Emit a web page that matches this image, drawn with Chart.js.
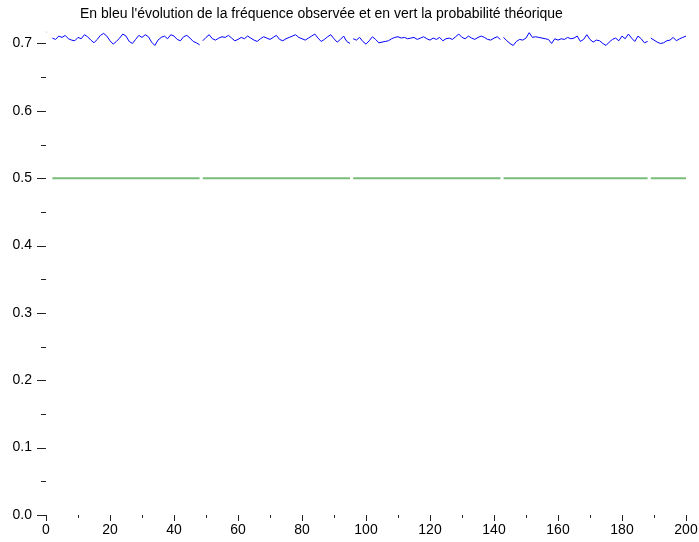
<!DOCTYPE html>
<html>
<head>
<meta charset="utf-8">
<script src="https://cdn.jsdelivr.net/npm/chart.js@4/dist/chart.umd.min.js"></script>
<style>
  html, body { margin: 0; padding: 0; background: #fff; }
  #wrap { width: 699px; height: 542px; position: relative; }
</style>
</head>
<body>
<div id="wrap"><canvas id="chart"></canvas></div>
<script>
// titre
const titre = "En bleu l'évolution de la fréquence observée et en vert la probabilité théorique";

// fréquence observée, x = 2 .. 200
const frequence = [
  0.708,0.706,0.711,0.709,0.712,0.707,0.705,0.704,0.709,0.707,
  0.713,0.710,0.705,0.701,0.706,0.712,0.715,0.711,0.704,0.699,
  0.703,0.708,0.714,0.711,0.703,0.700,0.706,0.712,0.709,0.713,
  0.710,0.702,0.697,0.705,0.709,0.711,0.707,0.713,0.711,0.706,
  0.704,0.710,0.712,0.708,0.703,0.701,0.698,
  0.704,0.709,0.713,0.707,0.705,0.708,0.710,0.709,0.712,0.708,
  0.704,0.706,0.709,0.707,0.711,0.708,0.705,0.703,0.707,0.710,
  0.708,0.706,0.709,0.712,0.706,0.704,0.707,0.709,0.711,0.713,
  0.709,0.707,0.705,0.708,0.711,0.714,0.708,0.703,0.706,0.710,
  0.713,0.707,0.702,0.706,0.711,0.703,0.700,
  0.707,0.705,0.709,0.703,0.699,0.704,0.710,0.706,0.701,0.702,
  0.703,0.704,0.707,0.709,0.710,0.708,0.709,0.707,0.708,0.709,
  0.706,0.708,0.710,0.707,0.705,0.708,0.706,0.709,0.704,0.707,
  0.708,0.706,0.710,0.714,0.709,0.707,0.711,0.708,0.706,0.709,
  0.711,0.709,0.706,0.705,0.708,0.710,0.706,
  0.709,0.704,0.700,0.697,0.703,0.706,0.705,0.708,0.716,0.709,
  0.710,0.709,0.708,0.707,0.706,0.700,0.707,0.705,0.707,0.706,
  0.709,0.707,0.708,0.711,0.703,0.706,0.713,0.706,0.702,0.705,
  0.704,0.700,0.697,0.702,0.706,0.708,0.704,0.711,0.707,0.714,
  0.708,0.703,0.711,0.707,0.701,0.703,
  0.708,0.705,0.702,0.700,0.701,0.704,0.705,0.709,0.704,0.707,0.709,0.711
];
const premierX = 2;
const pointInitial = 0.717;   // point isolé en x = 0
const probabilite = 0.5;
// coupures des tracés
const coupures = [48.5, 95.5, 142.5, 188.5];

// graduations
const xTicks = [0,10,20,30,40,50,60,70,80,90,100,110,120,130,140,150,160,170,180,190,200];
const xLabels = [0,20,40,60,80,100,120,140,160,180,200];
const yTicks = [0,0.05,0.1,0.15,0.2,0.25,0.3,0.35,0.4,0.45,0.5,0.55,0.6,0.65,0.7];
const yLabels = [0,0.1,0.2,0.3,0.4,0.5,0.6,0.7];
const xMin = 0, xMax = 200;
const yMin = 0, yMax = 0.72;

const estLabel = (liste, v) => liste.some(l => Math.abs(l - v) < 1e-6);

function avecCoupures(points) {
  const out = points.slice();
  coupures.forEach(c => out.push({ x: c, y: null }));
  return out.sort((a, b) => a.x - b.x);
}

const bleu = [{ x: 0, y: pointInitial }, { x: 1, y: null }];
frequence.forEach((v, i) => bleu.push({ x: premierX + i, y: v }));
const vert = frequence.map((v, i) => ({ x: premierX + i, y: probabilite }));

const FONT = "'Liberation Sans', Arial, sans-serif";

const titrePlugin = {
  id: "titre",
  afterDraw(chart) {
    const c = chart.ctx;
    c.save();
    c.font = "14px " + FONT;
    c.fillStyle = "#000";
    c.textBaseline = "alphabetic";
    c.textAlign = "left";
    c.fillText(titre, 80, 18);
    c.restore();
  }
};

const traitsPlugin = {
  id: "traits",
  afterDraw(chart) {
    const c = chart.ctx;
    const xs = chart.scales.x, ys = chart.scales.y;
    const area = chart.chartArea;
    c.save();
    c.strokeStyle = "#222";
    c.lineWidth = 1;
    c.beginPath();
    ys.ticks.forEach(t => {
      const y = Math.round(ys.getPixelForValue(t.value)) + 0.5;
      const len = estLabel(yLabels, t.value) ? 9 : 5;
      c.moveTo(area.left - len, y);
      c.lineTo(area.left, y);
    });
    xs.ticks.forEach(t => {
      const x = Math.round(xs.getPixelForValue(t.value)) + 0.5;
      const y0 = area.bottom;
      c.moveTo(x, y0);
      c.lineTo(x, y0 + (estLabel(xLabels, t.value) ? 6 : 3));
    });
    c.stroke();
    c.restore();
  }
};

new Chart(document.getElementById("chart"), {
  type: "line",
  data: {
    datasets: [
      {
        label: "probabilité théorique",
        data: avecCoupures(vert),
        borderColor: "rgb(122, 188, 122)",
        borderWidth: 2,
        pointRadius: 0,
        spanGaps: false,
        tension: 0
      },
      {
        label: "fréquence observée",
        data: avecCoupures(bleu),
        borderColor: "#0000ff",
        borderWidth: 1,
        pointRadius: ctx => (ctx.dataIndex === 0 ? 0.6 : 0),
        pointBackgroundColor: "#666",
        pointBorderWidth: 0,
        spanGaps: false,
        tension: 0
      }
    ]
  },
  options: {
    responsive: true,
    maintainAspectRatio: false,
    animation: false,
    layout: { padding: { top: 30, left: 12, right: 0, bottom: 0 } },
    plugins: {
      legend: { display: false },
      tooltip: { enabled: false }
    },
    scales: {
      x: {
        type: "linear",
        min: xMin,
        max: xMax,
        afterBuildTicks: s => { s.ticks = xTicks.map(v => ({ value: v })); },
        afterFit: s => { s.height = 27; s.paddingRight = 13; s.paddingLeft = 0; },
        ticks: {
          autoSkip: false,
          maxRotation: 0,
          padding: 7,
          color: "#000",
          font: { size: 14, family: FONT },
          callback: v => (estLabel(xLabels, v) ? String(v) : "")
        },
        grid: { display: false, drawTicks: false },
        border: { display: false }
      },
      y: {
        min: yMin,
        max: yMax,
        afterBuildTicks: s => { s.ticks = yTicks.map(v => ({ value: v })); },
        afterFit: s => { s.width = 34; },
        ticks: {
          autoSkip: false,
          padding: 14,
          color: "#000",
          font: { size: 14, family: FONT },
          callback: v => (estLabel(yLabels, v) ? v.toFixed(1) : "")
        },
        grid: { display: false, drawTicks: false },
        border: { display: false }
      }
    }
  },
  plugins: [titrePlugin, traitsPlugin]
});
</script>
</body>
</html>
